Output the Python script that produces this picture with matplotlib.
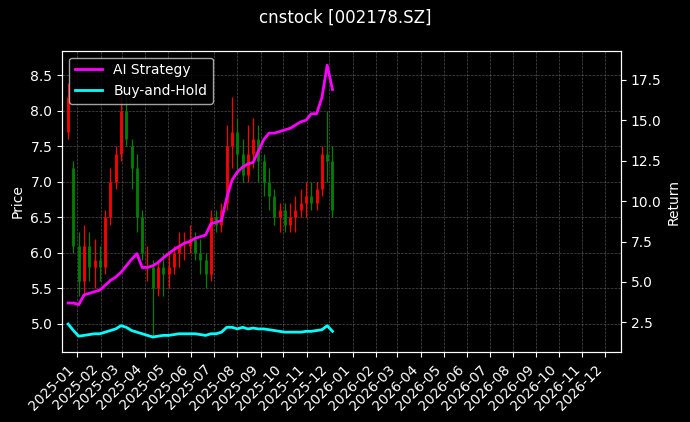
import matplotlib
matplotlib.use("Agg")
import matplotlib.pyplot as plt
import matplotlib.dates as mdates
import pandas as pd

weeks = pd.date_range("2024-12-20", periods=51, freq="7D")
highs = [8.4, 7.3, 6.3, 6.4, 6.3, 6.2, 6.1, 6.6, 7.2, 7.5, 8.2, 8.3, 7.6, 7.4, 6.6, 6.1,
         5.9, 5.9, 6.0, 6.0, 6.1, 6.3, 6.3, 6.4, 6.3, 6.2, 6.0, 6.6, 6.6, 6.7, 7.8, 8.2,
         7.9, 7.6, 7.8, 7.9, 7.8, 7.4, 7.2, 6.9, 6.7, 6.7, 6.7, 6.8, 6.9, 7.0, 7.0, 7.0,
         7.5, 8.0, 7.5]
lows = [7.6, 6.0, 5.4, 5.4, 5.6, 5.5, 5.6, 5.7, 6.4, 6.9, 7.3, 7.5, 6.9, 6.3, 5.9, 5.6,
        4.8, 5.4, 5.4, 5.5, 5.7, 5.8, 5.9, 6.0, 5.9, 5.7, 5.5, 5.6, 6.3, 6.3, 6.6, 7.2,
        7.1, 7.0, 7.0, 7.2, 7.0, 6.8, 6.6, 6.4, 6.3, 6.3, 6.3, 6.3, 6.5, 6.5, 6.6, 6.6,
        6.8, 7.0, 6.5]
opens = [7.7, 7.2, 6.1, 5.6, 6.1, 5.8, 5.9, 5.8, 6.5, 7.0, 7.4, 8.0, 7.5, 7.2, 6.5, 5.8,
         5.8, 5.5, 5.8, 5.7, 5.8, 6.0, 6.1, 6.1, 6.2, 6.0, 5.9, 5.7, 6.5, 6.4, 6.7, 7.5,
         7.7, 7.4, 7.1, 7.4, 7.6, 7.3, 7.0, 6.8, 6.5, 6.6, 6.4, 6.5, 6.6, 6.7, 6.8, 6.7,
         6.9, 7.4, 7.3]
closes = [8.2, 6.1, 5.6, 6.1, 5.8, 5.9, 5.8, 6.5, 7.0, 7.4, 8.0, 7.6, 7.2, 6.5, 6.0, 5.8,
          5.5, 5.8, 5.7, 5.8, 6.0, 6.1, 6.1, 6.2, 6.0, 5.9, 5.7, 6.5, 6.4, 6.6, 7.5, 7.7,
          7.4, 7.1, 7.4, 7.6, 7.3, 7.0, 6.8, 6.5, 6.6, 6.4, 6.5, 6.6, 6.7, 6.8, 6.7, 6.9,
          7.4, 7.3, 6.6]
ai_ret = [3.7, 3.7, 3.6, 4.2, 4.3, 4.4, 4.5, 4.8, 5.1, 5.3, 5.6, 6.0, 6.4, 6.75, 5.9, 5.9,
          6.0, 6.2, 6.5, 6.75, 7.0, 7.2, 7.4, 7.5, 7.7, 7.8, 7.9, 8.6, 8.7, 8.8, 10.2, 11.3,
          11.8, 12.1, 12.3, 12.4, 13.1, 13.8, 14.2, 14.2, 14.3, 14.4, 14.5, 14.7, 14.9, 15.0, 15.4, 15.4,
          16.4, 18.4, 16.9]
bh_ret = [2.4, 2.0, 1.65, 1.7, 1.75, 1.8, 1.8, 1.9, 2.0, 2.1, 2.3, 2.2, 2.0, 1.9, 1.8, 1.7,
          1.6, 1.65, 1.7, 1.7, 1.75, 1.8, 1.8, 1.8, 1.8, 1.75, 1.7, 1.8, 1.8, 1.9, 2.2, 2.2,
          2.1, 2.2, 2.1, 2.15, 2.1, 2.1, 2.05, 2.0, 1.95, 1.9, 1.9, 1.9, 1.9, 1.95, 1.95, 2.0,
          2.05, 2.3, 1.95]

plt.style.use("dark_background")
fig, ax1 = plt.subplots(figsize=(6.9, 4.22), dpi=100)
fig.patch.set_facecolor("black")
ax1.set_facecolor("black")

for i in range(len(weeks)):
    c = "red" if closes[i] >= opens[i] else "green"
    ax1.vlines(weeks[i], lows[i], highs[i], color=c, linewidth=0.9)
    ax1.vlines(weeks[i], min(opens[i], closes[i]), max(opens[i], closes[i]), color=c, linewidth=2)
ax1.set_ylabel("Price")
ax1.set_ylim(4.6, 8.85)
ax1.grid(True, linestyle="--", linewidth=0.5, color="gray", alpha=0.6)

ax2 = ax1.twinx()
ax2.plot(weeks, ai_ret, color="magenta", linewidth=2, label="AI Strategy")
ax2.plot(weeks, bh_ret, color="cyan", linewidth=2, label="Buy-and-Hold")
ax2.set_ylabel("Return")
ax2.set_ylim(0.65, 19.3)
ax2.legend(loc="upper left")

ax1.set_xlim(pd.Timestamp("2024-12-12"), pd.Timestamp("2026-12-22"))
ax1.xaxis.set_major_locator(mdates.MonthLocator())
ax1.xaxis.set_major_formatter(mdates.DateFormatter("%Y-%m"))
plt.setp(ax1.get_xticklabels(), rotation=45, ha="right")

fig.suptitle("cnstock [002178.SZ]")
fig.subplots_adjust(left=0.09, right=0.9, top=0.88, bottom=0.165)
fig.savefig("out.png")
